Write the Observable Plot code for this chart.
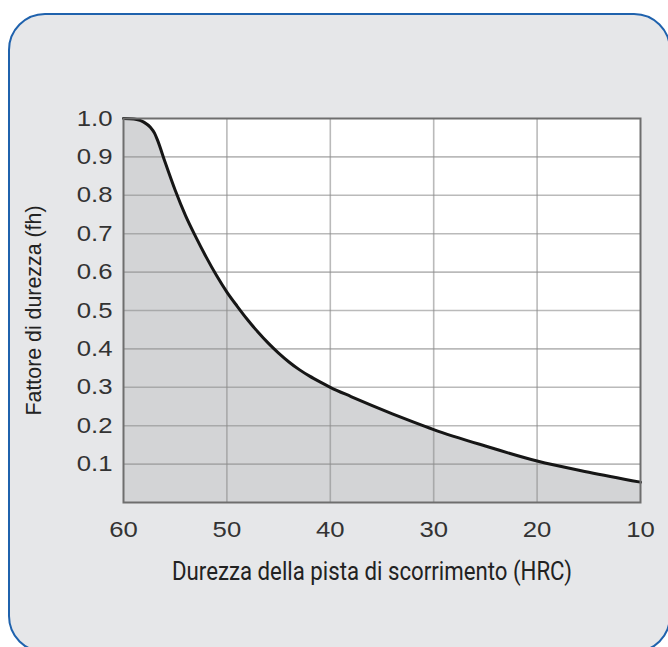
<!DOCTYPE html>
<html>
<head>
<meta charset="utf-8">
<script src="https://cdn.jsdelivr.net/npm/d3@7"></script>
<script src="https://cdn.jsdelivr.net/npm/@observablehq/plot@0.6"></script>
<style>
  html, body { margin: 0; padding: 0; background: #ffffff; width: 668px; height: 647px; overflow: hidden; }
  #panel {
    position: absolute; left: 8px; top: 13px; width: 663px; height: 640px;
    box-sizing: border-box; border: 2px solid #1f62ad; border-radius: 37px;
    background: #e6e7e9;
  }
  #chart { position: absolute; left: 0; top: 0; }
  #chart svg { background: transparent; }
</style>
</head>
<body>
<div id="panel"></div>
<div id="chart"></div>
<script>
// Hardness of the raceway (HRC) and hardness factor (fh)
const hrc = [60, 59, 58.4, 58, 57.4, 57, 56.7, 56, 55, 54, 53, 52, 51, 50, 49, 48, 47, 46, 45, 44, 43, 42, 41, 40, 38, 36, 34, 32, 30, 25, 20, 15, 10];
const fh  = [1.0, 0.999, 0.995, 0.99, 0.977, 0.962, 0.943, 0.888, 0.813, 0.747, 0.691, 0.639, 0.591, 0.548, 0.511, 0.476, 0.444, 0.415, 0.389, 0.366, 0.346, 0.329, 0.314, 0.30, 0.276, 0.253, 0.231, 0.21, 0.19, 0.147, 0.108, 0.079, 0.053];
const xTicks = [60, 50, 40, 30, 20, 10];
const yTicks = [0.1, 0.2, 0.3, 0.4, 0.5, 0.6, 0.7, 0.8, 0.9, 1.0];
const xTitle = "Durezza della pista di scorrimento (HRC)";
const yTitle = "Fattore di durezza (fh)";

const data = hrc.map((h, i) => ({hrc: h, fh: fh[i]}));

const tickFont = "'Liberation Sans', Arial, Helvetica, sans-serif";
const titleFont = "Roboto, 'Liberation Sans', sans-serif";

const chart = Plot.plot({
  width: 668,
  height: 647,
  marginLeft: 123,
  marginRight: 28,
  marginTop: 118,
  marginBottom: 145,
  style: {background: "transparent", color: "#333"},
  x: {domain: [60, 10], ticks: xTicks},
  y: {domain: [0, 1], ticks: yTicks},
  marks: [
    Plot.frame({fill: "#ffffff", stroke: null}),
    Plot.areaY(data, {x: "hrc", y: "fh", fill: "#d3d4d6", curve: "monotone-x"}),
    Plot.gridX(xTicks.filter(d => d !== 60 && d !== 10), {stroke: "#8c8c8c", strokeOpacity: 0.6, strokeWidth: 1.6}),
    Plot.gridY(yTicks.filter(d => d !== 1.0), {stroke: "#8c8c8c", strokeOpacity: 0.6, strokeWidth: 1.6}),
    Plot.lineY(data, {x: "hrc", y: "fh", stroke: "#161616", strokeWidth: 3, curve: "monotone-x"}),
    Plot.frame({stroke: "#6e6e6e", strokeWidth: 2}),
    Plot.axisX(xTicks, {tickSize: 0, tickPadding: 19, fontSize: 22, fontFamily: tickFont, fill: "#333", label: null}),
    Plot.axisY(yTicks, {tickSize: 0, tickPadding: 11, fontSize: 22, fontFamily: tickFont, fill: "#333", tickFormat: d => d.toFixed(1), label: null}),
    Plot.text([xTitle], {frameAnchor: "bottom", dy: 77, dx: -10, fontSize: 26, fontFamily: titleFont, fill: "#222"}),
    Plot.text([yTitle], {frameAnchor: "left", textAnchor: "middle", dx: -90, rotate: -90, fontSize: 22, fontFamily: tickFont, fill: "#222"})
  ]
});
document.getElementById("chart").appendChild(chart);

// Widen tick labels slightly (reference glyphs are horizontally stretched); condense the x title
chart.querySelectorAll("text").forEach(t => {
  const g = t.closest("g");
  const lab = (g && g.getAttribute("aria-label")) || "";
  if (lab.indexOf("tick label") >= 0) {
    const w = t.getComputedTextLength();
    t.setAttribute("textLength", (w * 1.17).toFixed(1));
    t.setAttribute("lengthAdjust", "spacingAndGlyphs");
  }
  if (t.textContent === xTitle) {
    t.setAttribute("textLength", "400");
    t.setAttribute("lengthAdjust", "spacingAndGlyphs");
  }
  if (t.textContent === yTitle) {
    t.setAttribute("textLength", "210");
    t.setAttribute("lengthAdjust", "spacingAndGlyphs");
  }
});
</script>
</body>
</html>
